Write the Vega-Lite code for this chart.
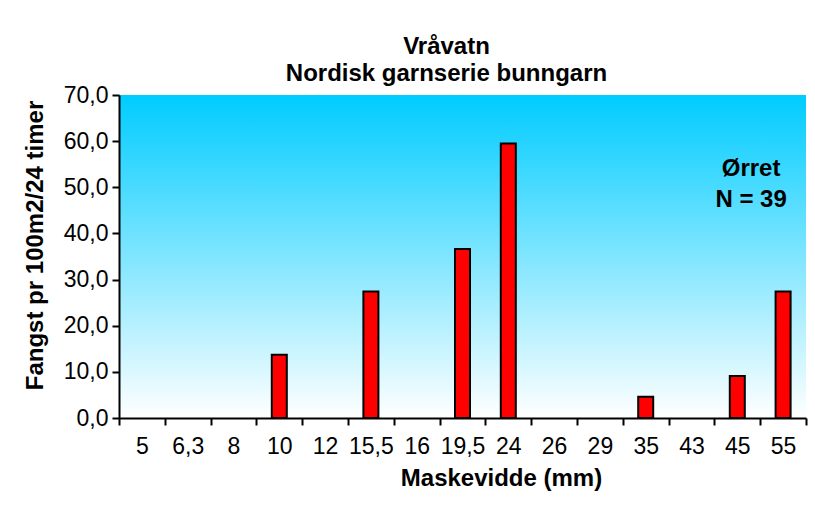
{
  "$schema": "https://vega.github.io/schema/vega-lite/v6.json",
  "autosize": "none",
  "width": 687,
  "height": 323,
  "padding": {"left": 119, "top": 95, "right": 9, "bottom": 88},
  "background": "white",
  "config": {
    "font": "Liberation Sans",
    "view": {
      "stroke": null,
      "fill": {"gradient": "linear", "x1": 0, "y1": 0, "x2": 0, "y2": 1,
        "stops": [{"offset": 0, "color": "#00ccff"}, {"offset": 1, "color": "#ffffff"}]}
    },
    "axis": {"grid": false, "domainColor": "black", "domainWidth": 2, "tickColor": "black", "tickWidth": 2, "tickSize": 7,
      "labelColor": "black", "labelFont": "Liberation Sans", "labelFontSize": 23,
      "titleColor": "black", "titleFont": "Liberation Sans", "titleFontSize": 24, "titleFontWeight": "bold"}
  },
  "title": {
    "text": ["Vråvatn", "Nordisk garnserie bunngarn"],
    "font": "Liberation Sans", "fontSize": 24, "fontWeight": "bold", "color": "black",
    "anchor": "middle", "dx": -16, "offset": -2, "lineHeight": 27
  },
  "data": {"values": [
    {"maske": "5", "fangst": 0},
    {"maske": "6,3", "fangst": 0},
    {"maske": "8", "fangst": 0},
    {"maske": "10", "fangst": 13.7},
    {"maske": "12", "fangst": 0},
    {"maske": "15,5", "fangst": 27.4},
    {"maske": "16", "fangst": 0},
    {"maske": "19,5", "fangst": 36.6},
    {"maske": "24", "fangst": 59.5},
    {"maske": "26", "fangst": 0},
    {"maske": "29", "fangst": 0},
    {"maske": "35", "fangst": 4.6},
    {"maske": "43", "fangst": 0},
    {"maske": "45", "fangst": 9.1},
    {"maske": "55", "fangst": 27.4}
  ]},
  "layer": [
    {
      "transform": [{"filter": "datum.fangst > 0"}],
      "mark": {"type": "bar", "color": "#ff0000", "stroke": "black", "strokeWidth": 2, "size": 15},
      "encoding": {
        "x": {"field": "maske", "type": "nominal", "sort": null,
          "scale": {"domain": ["5", "6,3", "8", "10", "12", "15,5", "16", "19,5", "24", "26", "29", "35", "43", "45", "55"], "paddingInner": 0, "paddingOuter": 0},
          "axis": {"title": "Maskevidde (mm)", "labelAngle": 0, "tickBand": "extent", "labelPadding": 10,
            "titleX": 382, "titleY": 60, "titleBaseline": "middle", "titleAnchor": "middle"}},
        "y": {"field": "fangst", "type": "quantitative",
          "scale": {"domain": [0, 70], "nice": false},
          "axis": {"title": "Fangst pr 100m2/24 timer", "values": [0, 10, 20, 30, 40, 50, 60, 70],
            "labelExpr": "replace(format(datum.value, '.1f'), '.', ',')", "labelPadding": 4,
            "titleX": -84, "titleY": 150, "titleBaseline": "middle", "titleAnchor": "middle"}}
      }
    },
    {
      "data": {"values": [{"art": "Ørret", "n": 39}]},
      "mark": {"type": "text", "text": ["Ørret", "N = 39"], "font": "Liberation Sans", "fontSize": 24, "fontWeight": "bold",
        "fill": "black", "stroke": null, "align": "center", "baseline": "middle", "lineHeight": 31, "dx": -32},
      "encoding": {
        "x": {"datum": "55", "type": "nominal"},
        "y": {"datum": 54, "type": "quantitative"}
      }
    }
  ]
}
